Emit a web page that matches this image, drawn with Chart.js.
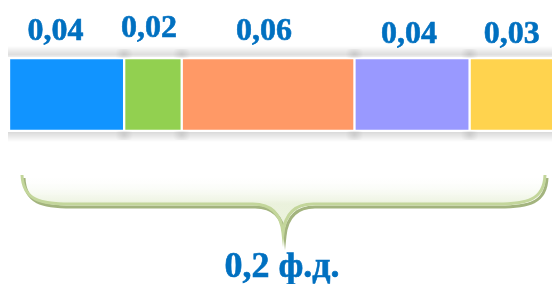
<!DOCTYPE html>
<html>
<head>
<meta charset="utf-8">
<script src="https://cdn.jsdelivr.net/npm/chart.js@4"></script>
<style>
    html, body { margin: 0; padding: 0; background: #ffffff; overflow: hidden; }
    #wrap { width: 556px; height: 284px; }
</style>
</head>
<body>
<div id="wrap"><canvas id="fractions"></canvas></div>
<script>
// Дані діаграми
const parts = ['0,04', '0,02', '0,06', '0,04', '0,03'];
const values = [0.04, 0.02, 0.06, 0.04, 0.03];
const totalLabel = '0,2 ф.д.';

// Кольори сегментів
const segmentColors = ['#1194FF', '#92D050', '#FF9966', '#9999FF', '#FFD34E'];
const textColor = '#0070C0';

// Тіні над та під смугою
const barShadow = {
    id: 'barShadow',
    beforeDatasetsDraw(chart) {
        const { ctx, chartArea } = chart;
        const x0 = chartArea.left - 1, x1 = chart.width;
        ctx.save();
        let g = ctx.createLinearGradient(0, chartArea.top - 12, 0, chartArea.top);
        g.addColorStop(0, 'rgba(0,0,0,0)');
        g.addColorStop(0.7, 'rgba(0,0,0,0.13)');
        g.addColorStop(1, 'rgba(0,0,0,0.04)');
        ctx.fillStyle = g;
        ctx.fillRect(x0, chartArea.top - 12, x1 - x0, 11);
        g = ctx.createLinearGradient(0, chartArea.bottom + 1, 0, chartArea.bottom + 11);
        g.addColorStop(0, 'rgba(0,0,0,0.15)');
        g.addColorStop(1, 'rgba(0,0,0,0)');
        ctx.fillStyle = g;
        ctx.fillRect(x0, chartArea.bottom + 1, x1 - x0, 10);

        // м'які плями на межах сегментів
        const xs = chart.scales.x;
        let sum = 0;
        values.slice(0, -1).forEach(v => {
            sum += v;
            const bx = xs.getPixelForValue(sum);
            [chartArea.top - 4, chartArea.bottom + 4].forEach(by => {
                const r = ctx.createRadialGradient(bx, by, 0, bx, by, 9);
                r.addColorStop(0, 'rgba(0,0,0,0.10)');
                r.addColorStop(1, 'rgba(0,0,0,0)');
                ctx.fillStyle = r;
                ctx.fillRect(bx - 9, by - 5, 18, 10);
            });
        });
        ctx.restore();
    }
};

// Підписи над сегментами, дужка і підсумок
const annotations = {
    id: 'annotations',
    afterDatasetsDraw(chart, args, opts) {
        const { ctx } = chart;
        ctx.save();
        ctx.fillStyle = textColor;
        ctx.strokeStyle = textColor;
        ctx.lineWidth = 0.6;
        ctx.font = 'bold 32px "Liberation Serif", "Times New Roman", serif';
        ctx.textAlign = 'center';
        ctx.textBaseline = 'alphabetic';
        chart.data.datasets.forEach((ds, i) => {
            const el = chart.getDatasetMeta(i).data[0];
            const cx = (el.x + el.base) / 2 + opts.dx[i];
            ctx.fillText(parts[i], cx, opts.baseY[i]);
            ctx.strokeText(parts[i], cx, opts.baseY[i]);
        });

        // дужка
        const L = 22, R = 545, top = 175, mid = 283, lineY = 204, tipY = 233;
        const bracePath = () => {
            ctx.beginPath();
            ctx.moveTo(L, top);
            ctx.bezierCurveTo(L + 1, lineY - 4, L + 18, lineY, L + 48, lineY);
            ctx.lineTo(mid - 30, lineY);
            ctx.bezierCurveTo(mid - 12, lineY, mid - 2, lineY + 10, mid, tipY);
            ctx.bezierCurveTo(mid + 2, lineY + 10, mid + 12, lineY, mid + 30, lineY);
            ctx.lineTo(R - 48, lineY);
            ctx.bezierCurveTo(R - 18, lineY, R - 1, lineY - 4, R, top);
        };
        // заливка під дужкою
        bracePath();
        ctx.closePath();
        const fg = ctx.createLinearGradient(0, top, 0, lineY);
        fg.addColorStop(0, 'rgba(255,255,255,0)');
        fg.addColorStop(1, 'rgba(226,236,206,0.7)');
        ctx.fillStyle = fg;
        ctx.fill();
        // тінь
        ctx.save();
        ctx.translate(2, 3);
        bracePath();
        ctx.strokeStyle = '#A3B47E';
        ctx.lineWidth = 3;
        ctx.stroke();
        ctx.restore();
        bracePath();
        ctx.strokeStyle = '#C3D69B';
        ctx.lineWidth = 3;
        ctx.stroke();

        // підсумок
        ctx.fillStyle = textColor;
        ctx.strokeStyle = textColor;
        ctx.lineWidth = 0.6;
        ctx.font = 'bold 36px "Liberation Serif", "Times New Roman", serif';
        ctx.fillText(totalLabel, 282, 277);
        ctx.strokeText(totalLabel, 282, 277);
        ctx.restore();
    }
};

new Chart(document.getElementById('fractions'), {
    type: 'bar',
    data: {
        labels: [''],
        datasets: values.map((v, i) => ({
            label: parts[i],
            data: [v],
            backgroundColor: segmentColors[i],
            borderColor: '#ffffff',
            borderWidth: 1.5,
            borderSkipped: false,
            barPercentage: 1,
            categoryPercentage: 1
        }))
    },
    options: {
        indexAxis: 'y',
        responsive: true,
        maintainAspectRatio: false,
        animation: false,
        layout: { padding: { left: 9, right: 0, top: 58, bottom: 153 } },
        scales: {
            x: { stacked: true, min: 0, max: 0.19, display: false },
            y: { stacked: true, display: false }
        },
        plugins: {
            legend: { display: false },
            tooltip: { enabled: false },
            annotations: {
                dx: [-11, -4, -4, -3, -1],
                baseY: [40, 37, 40, 43, 43]
            }
        }
    },
    plugins: [barShadow, annotations]
});
</script>
</body>
</html>
